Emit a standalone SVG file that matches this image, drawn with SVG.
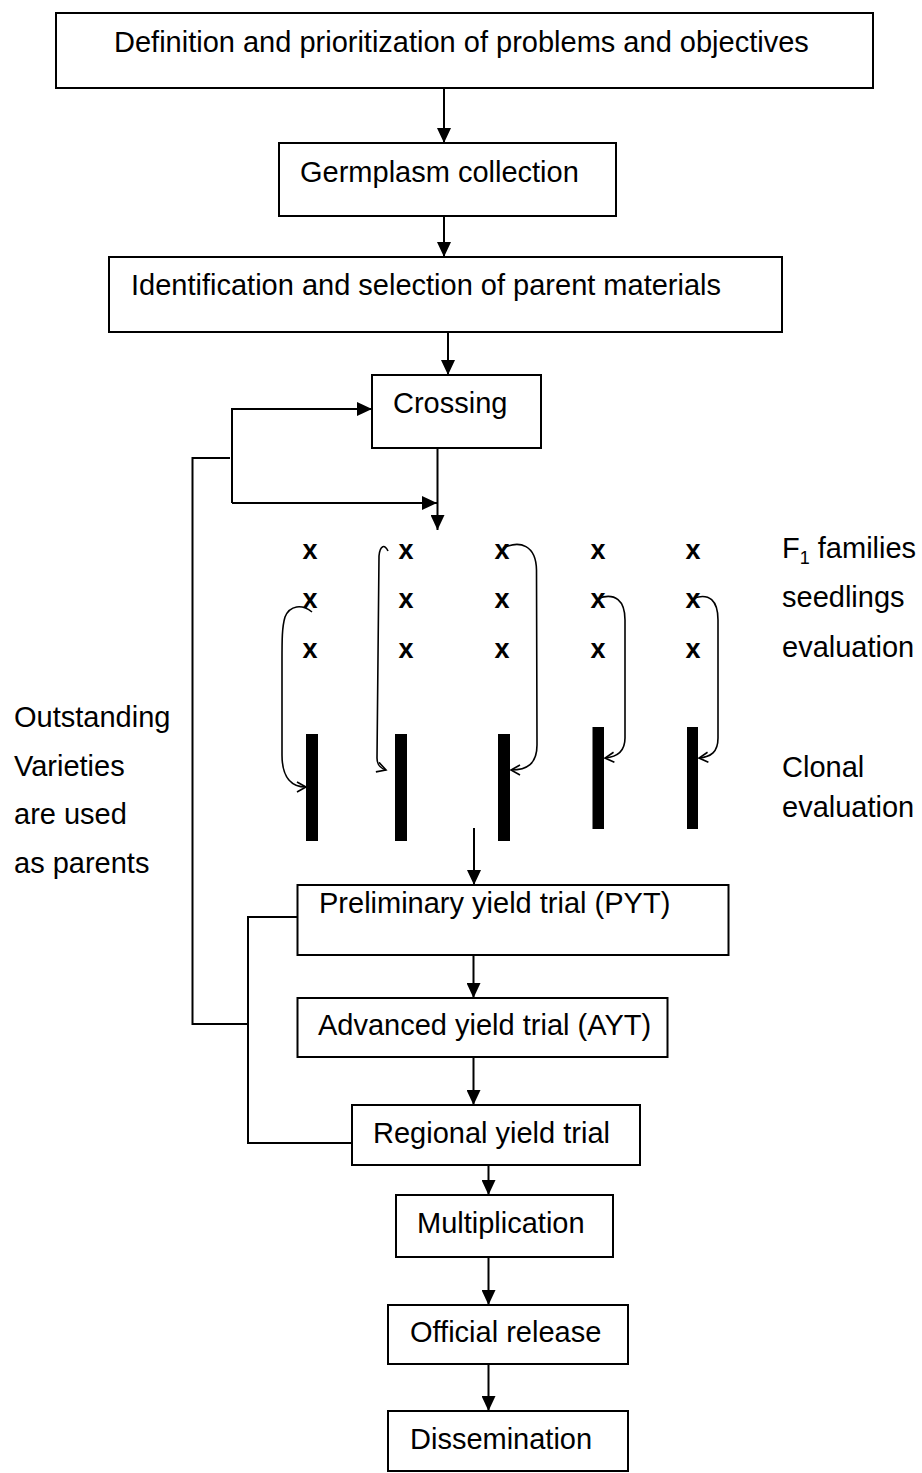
<svg xmlns="http://www.w3.org/2000/svg" width="922" height="1473" viewBox="0 0 922 1473">
<style>
.box{fill:#fff;stroke:#000;stroke-width:2}
.t{font-family:"Liberation Sans",Arial,sans-serif;font-size:29px;fill:#000}
.x{font-family:"Liberation Sans",Arial,sans-serif;font-size:27px;font-weight:bold;fill:#000;text-anchor:middle}
.ln{fill:none;stroke:#000;stroke-width:2}
.cv{fill:none;stroke:#000;stroke-width:1.6}
.bar{fill:#000}
</style>
<defs>
<marker id="ah" markerUnits="userSpaceOnUse" viewBox="0 0 15 14" refX="15" refY="7" markerWidth="15" markerHeight="14" orient="auto">
<path d="M0,0 L15,7 L0,14 Z" fill="#000"/>
</marker>
<marker id="oh" markerUnits="userSpaceOnUse" viewBox="0 0 12 12" refX="10" refY="6" markerWidth="12" markerHeight="12" orient="auto">
<path d="M1,1 L10,6 L1,11" fill="none" stroke="#000" stroke-width="1.6"/>
</marker>
</defs>
<g id="connectors">
<path class="ln" d="M444,88 L444,143" marker-end="url(#ah)"/>
<path class="ln" d="M444,216 L444,257" marker-end="url(#ah)"/>
<path class="ln" d="M448,332 L448,375" marker-end="url(#ah)"/>
<path class="ln" d="M437.5,448 L437.5,530" marker-end="url(#ah)"/>
<path class="ln" d="M232,503 L232,409 L372,409" marker-end="url(#ah)"/>
<path class="ln" d="M232,503 L437,503" marker-end="url(#ah)"/>
<path class="ln" d="M230,458 L192.5,458 L192.5,1024 L248,1024"/>
<path class="ln" d="M298,917 L248,917 L248,1143 L352,1143"/>
<path class="ln" d="M474,828 L474,885" marker-end="url(#ah)"/>
<path class="ln" d="M473.5,955 L473.5,998" marker-end="url(#ah)"/>
<path class="ln" d="M473.5,1057 L473.5,1105" marker-end="url(#ah)"/>
<path class="ln" d="M488.5,1165 L488.5,1195" marker-end="url(#ah)"/>
<path class="ln" d="M488.5,1257 L488.5,1305" marker-end="url(#ah)"/>
<path class="ln" d="M488.5,1364 L488.5,1411" marker-end="url(#ah)"/>
<path class="cv" d="M312,612 C302,604 290,605 285,617 C282,627 282,640 282,660 L282,755 C282,778 292,787 306,787" marker-end="url(#oh)"/>
<path class="cv" d="M388,551 C385,544 380,545 379,556 L377,758 C377,765 380,768 386,770" marker-end="url(#oh)"/>
<path class="cv" d="M503,548 C520,540 536,545 536.5,570 L537,745 C537,764 527,770 511,770" marker-end="url(#oh)"/>
<path class="cv" d="M599,598 C615,593 625,600 625,620 L625,738 C625,752 617,757 605,758" marker-end="url(#oh)"/>
<path class="cv" d="M694,598 C709,593 718,600 718,620 L718,738 C718,752 711,757 699,758" marker-end="url(#oh)"/>
</g>
<g id="n-definition"><rect class="box" x="56" y="13" width="817" height="75"/><text class="t" x="114" y="52">Definition and prioritization of problems and objectives</text></g>
<g id="n-germplasm"><rect class="box" x="279" y="143" width="337" height="73"/><text class="t" x="300" y="182">Germplasm collection</text></g>
<g id="n-identification"><rect class="box" x="109" y="257" width="673" height="75"/><text class="t" x="131" y="295">Identification and selection of parent materials</text></g>
<g id="n-crossing"><rect class="box" x="372" y="375" width="169" height="73"/><text class="t" x="393" y="413">Crossing</text></g>
<g id="n-seedlings">
<text class="x" x="310" y="559">x</text><text class="x" x="406" y="559">x</text><text class="x" x="502" y="559">x</text><text class="x" x="598" y="559">x</text><text class="x" x="693" y="559">x</text>
<text class="x" x="310" y="608">x</text><text class="x" x="406" y="608">x</text><text class="x" x="502" y="608">x</text><text class="x" x="598" y="608">x</text><text class="x" x="693" y="608">x</text>
<text class="x" x="310" y="658">x</text><text class="x" x="406" y="658">x</text><text class="x" x="502" y="658">x</text><text class="x" x="598" y="658">x</text><text class="x" x="693" y="658">x</text>
</g>
<g id="n-clones">
<rect class="bar" x="306" y="734" width="12" height="107"/>
<rect class="bar" x="395" y="734" width="12" height="107"/>
<rect class="bar" x="498" y="734" width="12" height="107"/>
<rect class="bar" x="592.5" y="727" width="11.5" height="102"/>
<rect class="bar" x="687" y="727" width="11" height="102"/>
</g>
<g id="n-right-labels">
<text class="t" x="782" y="558">F<tspan font-size="18" dy="6">1</tspan><tspan dy="-6"> families</tspan></text>
<text class="t" x="782" y="607">seedlings</text>
<text class="t" x="782" y="657">evaluation</text>
<text class="t" x="782" y="777">Clonal</text>
<text class="t" x="782" y="817">evaluation</text>
</g>
<g id="n-left-label">
<text class="t" x="14" y="727">Outstanding</text>
<text class="t" x="14" y="776">Varieties</text>
<text class="t" x="14" y="824">are used</text>
<text class="t" x="14" y="873">as parents</text>
</g>
<g id="n-pyt"><rect class="box" x="297.5" y="885" width="431" height="70"/><text class="t" x="319" y="913">Preliminary yield trial (PYT)</text></g>
<g id="n-ayt"><rect class="box" x="297.5" y="998" width="370" height="59"/><text class="t" x="318" y="1035">Advanced yield trial (AYT)</text></g>
<g id="n-regional"><rect class="box" x="352" y="1105" width="288" height="60"/><text class="t" x="373" y="1143">Regional yield trial</text></g>
<g id="n-multiplication"><rect class="box" x="396" y="1195" width="217" height="62"/><text class="t" x="417" y="1233">Multiplication</text></g>
<g id="n-release"><rect class="box" x="388" y="1305" width="240" height="59"/><text class="t" x="410" y="1342">Official release</text></g>
<g id="n-dissemination"><rect class="box" x="388" y="1411" width="240" height="60"/><text class="t" x="410" y="1449">Dissemination</text></g>
</svg>
